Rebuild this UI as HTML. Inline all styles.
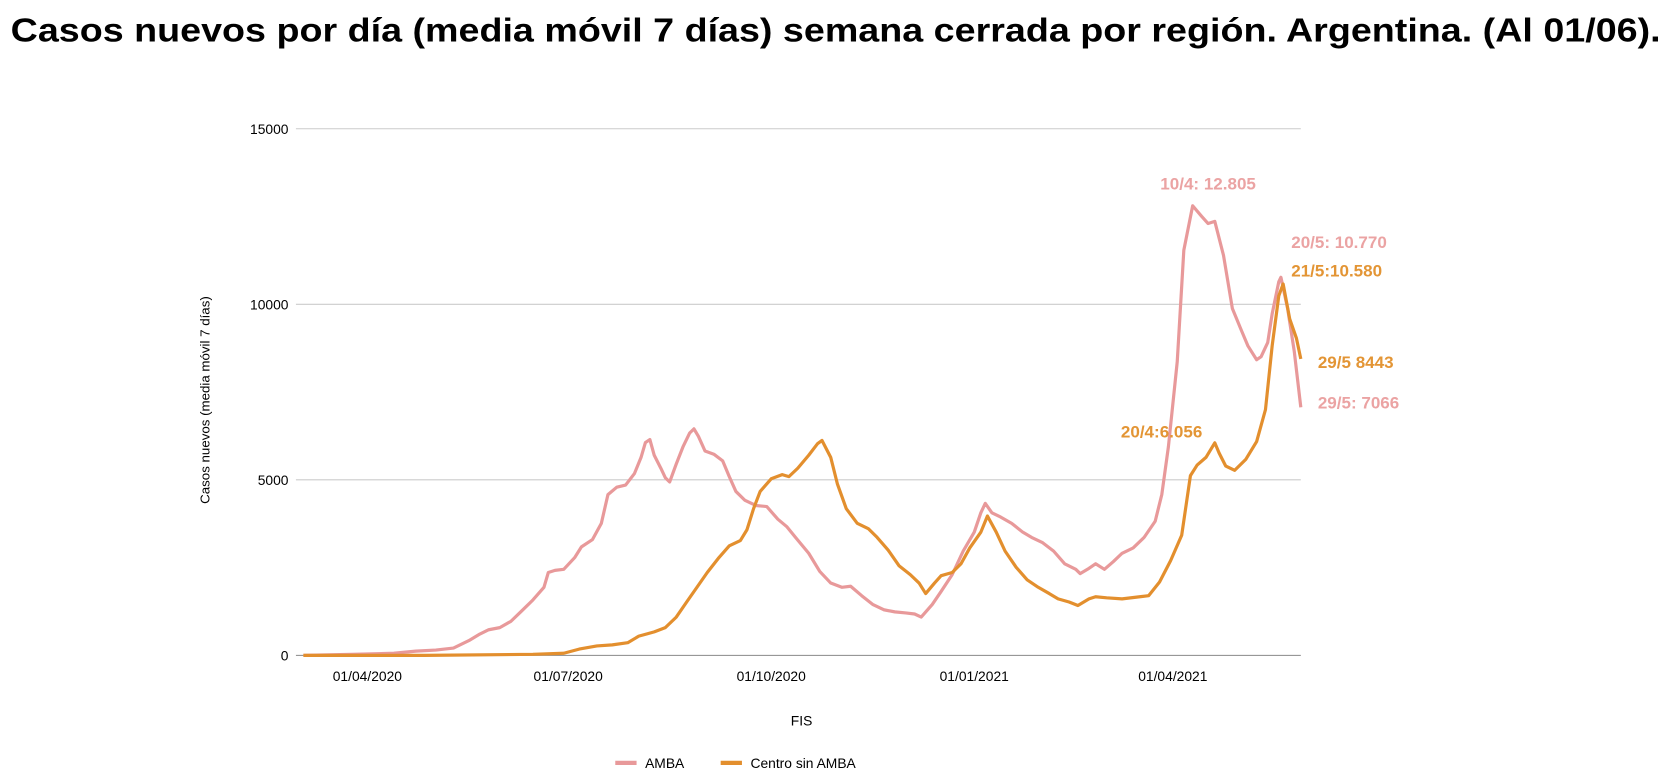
<!DOCTYPE html>
<html><head><meta charset="utf-8"><style>
html,body{margin:0;padding:0;background:#fff;width:1667px;height:782px;overflow:hidden}
svg{display:block}
text{font-family:"Liberation Sans",sans-serif}
</style></head><body>
<svg id="chart" width="1667" height="782" viewBox="0 0 1566 735" preserveAspectRatio="none">
<text x="10" y="39" font-size="31" font-weight="bold" fill="#000" textLength="1550" lengthAdjust="spacingAndGlyphs">Casos nuevos por día (media móvil 7 días) semana cerrada por región. Argentina. (Al 01/06).</text>
<g id="grid"></g>
<g id="lines"></g>
<text transform="translate(197,376) rotate(-90)" text-anchor="middle" font-size="12.5">Casos nuevos (media móvil 7 días)</text>
<text x="753" y="682" text-anchor="middle" font-size="13">FIS</text>
<g>
<line x1="578" y1="717" x2="598" y2="717" stroke="#e8999a" stroke-width="4"/>
<text x="606" y="722" font-size="13">AMBA</text>
<line x1="677" y1="717" x2="697" y2="717" stroke="#e38f2e" stroke-width="4"/>
<text x="705" y="722" font-size="13">Centro sin AMBA</text>
</g>
<g font-weight="bold" font-size="16">
<text x="1090" y="178" fill="#eba3a3">10/4: 12.805</text>
<text x="1213" y="233" fill="#eba3a3">20/5: 10.770</text>
<text x="1213" y="260" fill="#e39535">21/5:10.580</text>
<text x="1238" y="346" fill="#e39535">29/5 8443</text>
<text x="1238" y="384" fill="#eba3a3">29/5: 7066</text>
<text x="1053" y="411" fill="#e39535">20/4:6.056</text>
</g>
</svg>
<script>
// day offsets from 03/03/2020
const ambaDays=[0,22,41,51,60,68,75,80,84,89,94,99,104,109,111,114,118,123,126,131,135,138,142,146,150,153,155,157,159,162,164,166,169,172,175,177,179,182,186,190,193,196,200,205,210,215,219,223,229,234,239,244,248,253,258,263,268,273,277,280,285,289,294,299,304,307,309,312,316,321,326,330,335,340,345,350,352,356,359,363,367,371,376,381,386,389,392,396,399,403,407,410,413,417,421,425,428,432,434,437,439,442,443,446,449,452];
const ambaVals=[0,30,60,120,150,210,420,610,730,790,970,1270,1580,1940,2360,2420,2450,2790,3090,3300,3760,4580,4790,4850,5180,5640,6060,6150,5700,5330,5060,4940,5450,5940,6330,6450,6240,5820,5730,5540,5090,4670,4420,4270,4240,3880,3670,3360,2910,2390,2060,1940,1970,1700,1450,1300,1240,1210,1180,1090,1450,1820,2300,2970,3510,4060,4330,4060,3940,3760,3510,3360,3210,2970,2610,2450,2330,2480,2610,2450,2670,2910,3060,3360,3820,4580,5940,8360,11540,12805,12510,12300,12360,11390,9880,9270,8820,8420,8510,8910,9730,10640,10770,9880,8670,7066];
const centroDays=[0,55,104,118,125,133,140,147,152,159,164,169,174,178,183,188,193,198,201,204,207,212,217,220,224,229,233,235,239,242,246,251,256,260,265,270,275,279,282,286,289,294,298,302,307,310,314,318,323,328,333,338,342,347,351,356,359,364,371,379,383,388,393,398,402,405,409,413,415,418,422,427,432,436,439,442,444,447,450,452];
const centroVals=[0,0,30,60,180,270,300,360,550,670,790,1090,1550,1910,2360,2760,3120,3270,3580,4180,4670,5030,5150,5090,5330,5700,6030,6120,5640,4880,4180,3760,3610,3360,3000,2550,2300,2060,1760,2060,2270,2360,2610,3060,3510,3970,3510,2970,2510,2150,1940,1760,1610,1520,1420,1610,1670,1640,1610,1670,1700,2090,2700,3420,5120,5420,5640,6056,5760,5390,5270,5580,6090,7000,8820,10240,10580,9580,9030,8443];
const yTicks=[0,5000,10000,15000];
const xTickDays=[29,120,212,304,394];
const xTickLabels=["01/04/2020","01/07/2020","01/10/2020","01/01/2021","01/04/2021"];
const NS="http://www.w3.org/2000/svg";
const X0=285,X1=1222,Y0=616,Y1=121,DMAX=452,VMAX=15000;
function xs(d){return X0+d*(X1-X0)/DMAX;}
function ys(v){return Y0-v*(Y0-Y1)/VMAX;}
const grid=document.getElementById('grid');
yTicks.forEach(v=>{
 const l=document.createElementNS(NS,'line');
 l.setAttribute('x1',278);l.setAttribute('x2',1222);
 l.setAttribute('y1',ys(v));l.setAttribute('y2',ys(v));
 l.setAttribute('stroke',v===0?'#888':'#ccc');l.setAttribute('stroke-width',1);
 
 
 grid.appendChild(l);
 const t=document.createElementNS(NS,'text');
 t.setAttribute('x',271);t.setAttribute('y',ys(v)+5);t.setAttribute('text-anchor','end');t.setAttribute('font-size','13');
 t.textContent=v;
 
 
 grid.appendChild(t);
});
xTickDays.forEach((d,i)=>{
 const t=document.createElementNS(NS,'text');
 t.setAttribute('x',xs(d));t.setAttribute('y',640);t.setAttribute('text-anchor','middle');t.setAttribute('font-size','13');
 t.textContent=xTickLabels[i];
 
 
 grid.appendChild(t);
});
const lines=document.getElementById('lines');
function draw(days,vals,color,name){
 const p=document.createElementNS(NS,'polyline');
 p.setAttribute('points',days.map((d,i)=>xs(d).toFixed(1)+','+ys(vals[i]).toFixed(1)).join(' '));
 p.setAttribute('fill','none');p.setAttribute('stroke',color);p.setAttribute('stroke-width',3);p.setAttribute('stroke-linejoin','round');
 
 
 lines.appendChild(p);
}
draw(ambaDays,ambaVals,'#e8999a','amba-line');
draw(centroDays,centroVals,'#e38f2e','centro-line');
</script>
</body></html>
